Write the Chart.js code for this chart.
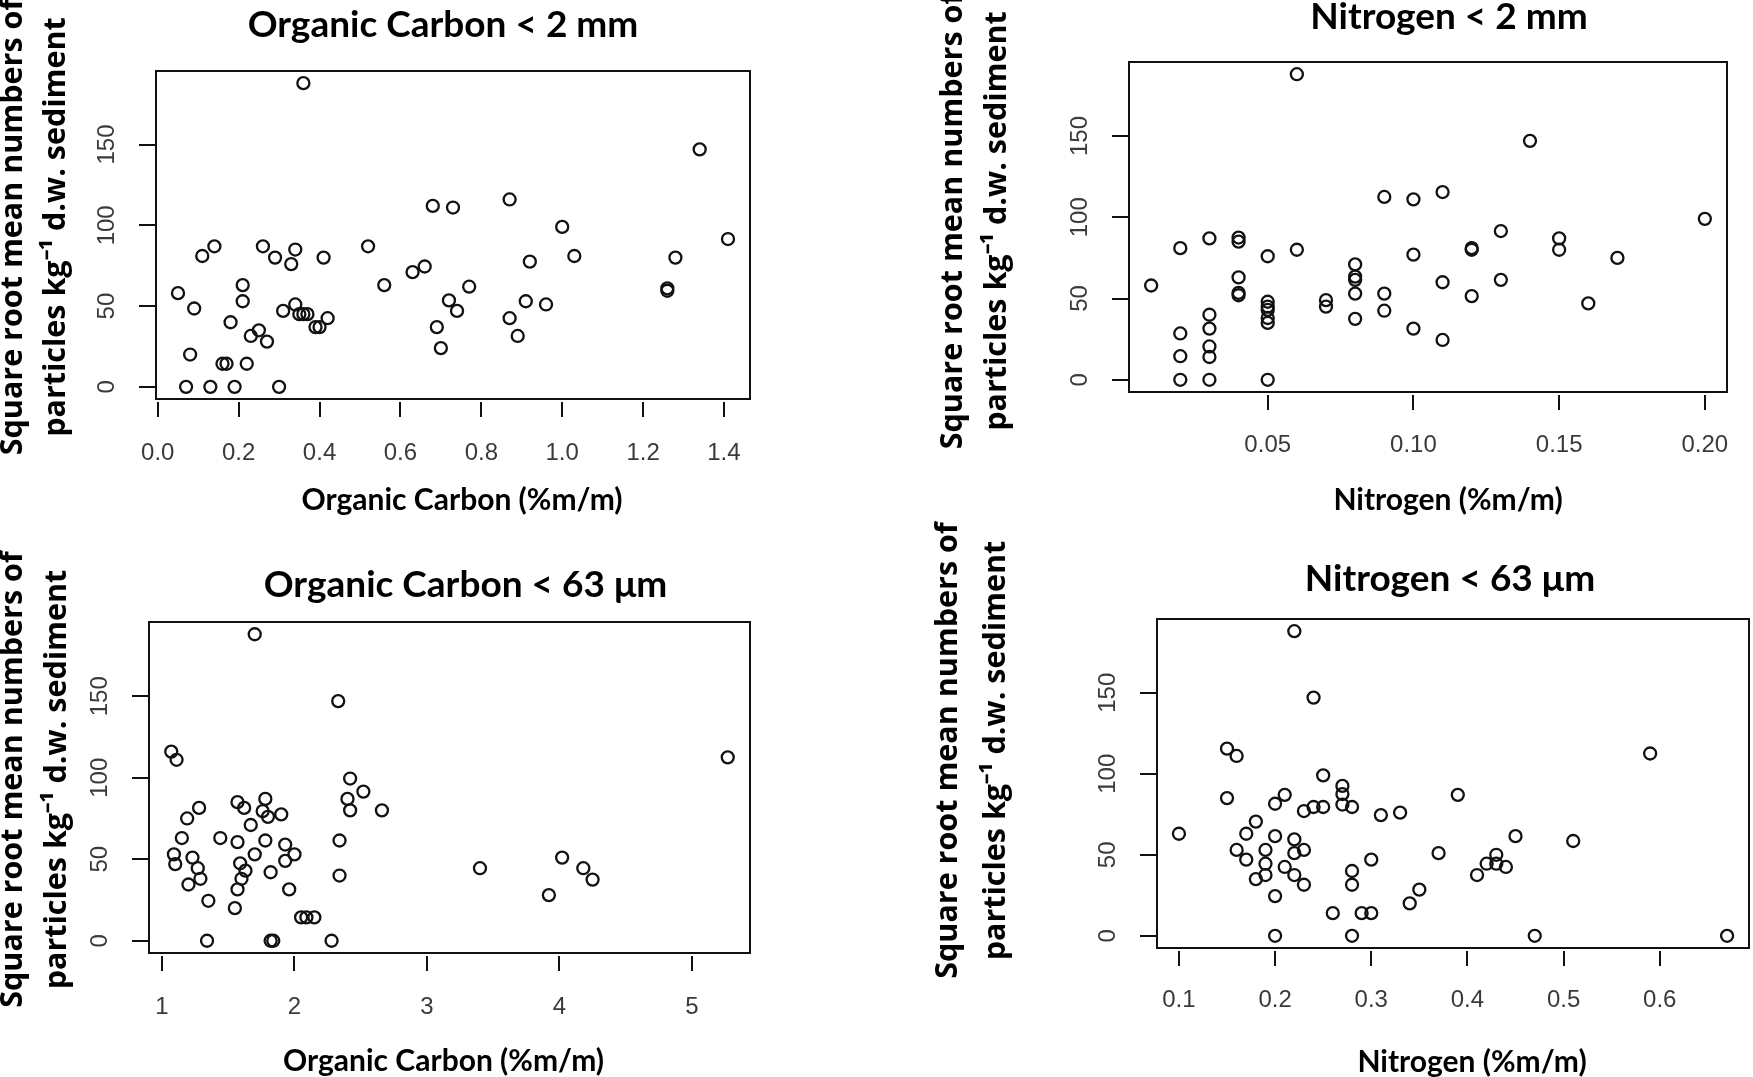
<!DOCTYPE html>
<html>
<head>
<meta charset="utf-8">
<title>Particles vs organic carbon and nitrogen</title>
<script src="https://cdn.jsdelivr.net/npm/chart.js@4.4.1/dist/chart.umd.min.js"></script>
<style>
    html, body { margin: 0; padding: 0; background: #fff; }
    body { width: 1753px; height: 1077px; overflow: hidden; position: relative; }
    canvas { position: absolute; }
</style>
</head>
<body>
<canvas id="ocCoarse"></canvas>
<canvas id="nCoarse"></canvas>
<canvas id="ocFine"></canvas>
<canvas id="nFine"></canvas>
<script>
// Organic carbon < 2 mm
const ocCoarseX = [0.36, 1.34, 0.68, 0.73, 0.87, 1.00, 1.41, 1.03, 1.28, 0.92, 0.14, 0.11, 0.26, 0.52, 0.34, 0.29, 0.33, 0.41, 0.66, 0.63, 0.56, 0.77, 1.26, 1.26, 0.05, 0.21, 0.21, 0.09, 0.31, 0.34, 0.35, 0.36, 0.37, 0.39, 0.40, 0.42, 0.72, 0.74, 0.91, 0.96, 0.87, 0.69, 0.89, 0.70, 0.18, 0.23, 0.25, 0.27, 0.08, 0.16, 0.17, 0.22, 0.07, 0.13, 0.19, 0.30];
const ocCoarseY = [188, 147, 112, 111, 116, 99, 91.5, 81, 80, 77.5, 87, 81, 87, 87, 85, 80, 76, 80, 74.5, 71, 63, 62, 61, 59.5, 58, 63, 53, 48.5, 47, 51, 45, 45, 45, 37, 37, 42.5, 53.5, 47, 53, 51, 42.5, 37, 31.5, 24, 40, 31.5, 35, 28, 20, 14.3, 14.3, 14.3, 0, 0, 0, 0];

// Nitrogen < 2 mm
const nCoarseX = [0.06, 0.14, 0.09, 0.10, 0.11, 0.20, 0.13, 0.15, 0.15, 0.12, 0.12, 0.17, 0.10, 0.06, 0.05, 0.03, 0.02, 0.04, 0.04, 0.01, 0.04, 0.04, 0.04, 0.08, 0.08, 0.08, 0.08, 0.08, 0.07, 0.07, 0.09, 0.09, 0.11, 0.10, 0.11, 0.12, 0.13, 0.16, 0.05, 0.05, 0.05, 0.05, 0.05, 0.03, 0.03, 0.03, 0.03, 0.02, 0.02, 0.02, 0.03, 0.05];
const nCoarseY = [188, 147, 112.5, 111, 115.5, 99, 91.5, 87, 80, 81, 80, 75, 77, 80, 76, 87, 81, 87.5, 85, 58, 63, 53.5, 52, 71, 63.5, 61.5, 53, 37.5, 49, 45, 53, 42.5, 60, 31.5, 24.5, 51.5, 61.5, 47, 48, 45, 43, 38, 35, 40, 31.5, 20.5, 14, 28.5, 14.5, 0, 0, 0];

// Organic carbon < 63 um
const ocFineX = [1.70, 2.33, 1.07, 1.11, 5.27, 2.42, 2.52, 2.40, 2.42, 2.66, 1.78, 1.57, 1.62, 1.76, 1.80, 1.90, 1.67, 1.28, 1.19, 1.15, 1.44, 1.78, 1.57, 2.34, 1.93, 1.09, 1.10, 1.23, 1.27, 1.29, 1.20, 1.70, 1.59, 1.63, 1.60, 1.57, 1.82, 1.93, 2.00, 1.96, 1.35, 1.55, 2.05, 2.09, 2.15, 2.34, 3.40, 4.02, 4.18, 4.25, 3.92, 1.34, 1.82, 1.84, 2.28];
const ocFineY = [188, 147, 116, 111, 112.5, 99.5, 91.5, 87, 80, 80, 87, 85, 81.5, 79.5, 76, 77.5, 71, 81.5, 75, 63, 63, 61.5, 60.5, 61.5, 59, 53, 47, 51, 44.5, 38, 34.5, 53, 47.5, 43, 38, 31.5, 42, 49, 53, 31.5, 24.5, 20, 14.3, 14.3, 14.3, 40, 44.5, 51, 44.5, 37.5, 28, 0, 0, 0, 0];

// Nitrogen < 63 um
const nFineX = [0.22, 0.24, 0.15, 0.16, 0.59, 0.25, 0.27, 0.27, 0.21, 0.39, 0.15, 0.20, 0.27, 0.24, 0.25, 0.28, 0.23, 0.31, 0.33, 0.18, 0.17, 0.20, 0.22, 0.45, 0.51, 0.10, 0.16, 0.19, 0.22, 0.23, 0.37, 0.17, 0.19, 0.21, 0.30, 0.43, 0.43, 0.42, 0.44, 0.41, 0.18, 0.19, 0.22, 0.23, 0.28, 0.28, 0.35, 0.20, 0.34, 0.26, 0.29, 0.30, 0.20, 0.28, 0.47, 0.67];
const nFineY = [188, 147, 115.5, 111, 112.5, 99, 92.5, 87.5, 87, 87, 85, 81.5, 81, 79.5, 79.5, 79.5, 77, 74.5, 76, 70.5, 63, 61.5, 59.5, 61.5, 58.5, 63, 53, 53, 51, 53, 51, 47, 44.5, 42.5, 47, 50, 44.5, 44.5, 42.5, 37.5, 35, 37.5, 37.5, 31.5, 40, 31.5, 28.5, 24.5, 20, 14, 14, 14, 0, 0, 0, 0];

// tick labels
const countTicks = [0, 50, 100, 150];
const ocCoarseTicks = [0.0, 0.2, 0.4, 0.6, 0.8, 1.0, 1.2, 1.4];
const nCoarseTicks = [0.05, 0.10, 0.15, 0.20];
const ocFineTicks = [1, 2, 3, 4, 5];
const nFineTicks = [0.1, 0.2, 0.3, 0.4, 0.5, 0.6];

const yTitle = ['Square root mean numbers of', 'particles kg\u207B\u00B9 d.w. sediment'];

// R pads the data range by 4% on each side
const padRange = arr => {
    const lo = Math.min(...arr), hi = Math.max(...arr);
    const d = (hi - lo) * 0.04;
    return [lo - d, hi + d];
};

// box around the plot region, like R's box()
const framePlugin = {
    id: 'frame',
    afterDatasetsDraw(chart) {
        const {ctx, chartArea: a} = chart;
        ctx.save();
        ctx.lineWidth = 2;
        ctx.strokeStyle = '#111';
        ctx.strokeRect(a.left, a.top, a.right - a.left, a.bottom - a.top);
        ctx.restore();
    }
};

// main title, x label and the two-line rotated y label, placed around the plot box
const panelTextPlugin = {
    id: 'panelText',
    afterDraw(chart, args, opts) {
        const {ctx, chartArea: a} = chart;
        const cx = (a.left + a.right) / 2;
        const cy = (a.top + a.bottom) / 2;
        ctx.save();
        ctx.fillStyle = '#000';
        ctx.textAlign = 'center';
        ctx.textBaseline = 'middle';
        ctx.font = 'bold 37px Lato';
        ctx.fillText(opts.title, cx + opts.titleDx, opts.titleY);
        ctx.font = 'bold 30px Lato';
        ctx.fillText(opts.xLabel, cx + opts.xLabelDx, opts.xLabelY);
        ctx.font = 'bold 30.5px "Open Sans"';
        ctx.translate(opts.yLabelX, cy + opts.yLabelDy);
        ctx.rotate(-Math.PI / 2);
        yTitle.forEach((line, i) => ctx.fillText(line, 0, i * opts.yLineGap));
        ctx.restore();
    }
};

const createPanel = (id, xs, ys, xTicks, decimals, title, xLabel, box) => {
    const canvas = document.getElementById(id);
    canvas.width = box.w;
    canvas.height = box.h;
    canvas.style.left = box.x + 'px';
    canvas.style.top = box.y + 'px';

    const [xMin, xMax] = padRange(xs);
    const [yMin, yMax] = padRange(ys);

    new Chart(canvas.getContext('2d'), {
        type: 'scatter',
        data: {
            datasets: [{
                data: xs.map((x, i) => ({x: x, y: ys[i]})),
                pointStyle: 'circle',
                pointRadius: 6,
                pointHoverRadius: 6,
                pointBorderWidth: 2.3,
                pointBorderColor: '#111',
                pointBackgroundColor: 'rgba(0,0,0,0)'
            }]
        },
        options: {
            responsive: false,
            animation: false,
            events: [],
            layout: {padding: {left: 0, top: box.top, right: box.padRight, bottom: 0}},
            plugins: {
                legend: {display: false},
                tooltip: {enabled: false},
                title: {display: false},
                panelText: {
                    title: title,
                    xLabel: xLabel,
                    titleDx: box.titleDx,
                    titleY: box.titleY,
                    xLabelDx: box.xLabelDx,
                    xLabelY: box.xLabelY,
                    yLabelX: box.yLabelX,
                    yLabelDy: box.yLabelDy,
                    yLineGap: box.yLineGap
                }
            },
            scales: {
                x: {
                    type: 'linear',
                    position: 'bottom',
                    min: xMin,
                    max: xMax,
                    afterBuildTicks: scale => { scale.ticks = xTicks.map(v => ({value: v})); },
                    afterFit: scale => { scale.height = box.xHeight; },
                    border: {display: false},
                    grid: {
                        drawOnChartArea: false,
                        drawTicks: true,
                        tickLength: 18,
                        tickBorderDash: [0, 3, 15, 40],
                        color: '#111',
                        lineWidth: 2
                    },
                    ticks: {
                        autoSkip: false,
                        maxRotation: 0,
                        padding: box.xTickPad,
                        color: '#3a3a3a',
                        font: {family: 'Liberation Sans', size: 24},
                        callback: v => v.toFixed(decimals)
                    }
                },
                y: {
                    type: 'linear',
                    min: yMin,
                    max: yMax,
                    afterBuildTicks: scale => { scale.ticks = countTicks.map(v => ({value: v})); },
                    afterFit: scale => { scale.width = box.yWidth; },
                    border: {display: false},
                    grid: {
                        drawOnChartArea: false,
                        drawTicks: true,
                        tickLength: 17,
                        color: '#111',
                        lineWidth: 2
                    },
                    ticks: {
                        autoSkip: false,
                        minRotation: 90,
                        maxRotation: 90,
                        crossAlign: 'center',
                        padding: 12,
                        color: '#3a3a3a',
                        font: {family: 'Liberation Sans', size: 24},
                        callback: v => String(v)
                    }
                }
            }
        },
        plugins: [framePlugin, panelTextPlugin]
    });
};

const draw = () => {
    createPanel('ocCoarse', ocCoarseX, ocCoarseY, ocCoarseTicks, 1,
        'Organic Carbon < 2 mm', 'Organic Carbon (%m/m)',
        {x: 0, y: 0, w: 900, h: 538, top: 71, padRight: 150, yWidth: 156, xHeight: 139, xTickPad: 21.5,
         titleDx: -10, titleY: 25, xLabelDx: 9, xLabelY: 500, yLabelX: 13, yLabelDy: -8, yLineGap: 43});
    createPanel('nCoarse', nCoarseX, nCoarseY, nCoarseTicks, 2,
        'Nitrogen < 2 mm', 'Nitrogen (%m/m)',
        {x: 900, y: 0, w: 900, h: 538, top: 62, padRight: 73, yWidth: 229, xHeight: 146, xTickPad: 20.5,
         titleDx: 21, titleY: 17, xLabelDx: 20, xLabelY: 500, yLabelX: 53, yLabelDy: -6, yLineGap: 44});
    createPanel('ocFine', ocFineX, ocFineY, ocFineTicks, 0,
        'Organic Carbon < 63 \u03BCm', 'Organic Carbon (%m/m)',
        {x: 0, y: 500, w: 900, h: 577, top: 122, padRight: 150, yWidth: 149, xHeight: 124, xTickPad: 21.5,
         titleDx: 16, titleY: 85, xLabelDx: -6, xLabelY: 561, yLabelX: 13, yLabelDy: -8, yLineGap: 44});
    createPanel('nFine', nFineX, nFineY, nFineTicks, 1,
        'Nitrogen < 63 \u03BCm', 'Nitrogen (%m/m)',
        {x: 900, y: 500, w: 900, h: 577, top: 119, padRight: 51, yWidth: 257, xHeight: 129, xTickPad: 19.5,
         titleDx: -3, titleY: 79, xLabelDx: 19, xLabelY: 562, yLabelX: 48, yLabelDy: -33, yLineGap: 48});
};

const fonts = ['bold 37px Lato', 'bold 30px "Open Sans"', '24px "Liberation Sans"'];
Promise.all(fonts.map(f => document.fonts.load(f))).then(draw, draw);
</script>
</body>
</html>
